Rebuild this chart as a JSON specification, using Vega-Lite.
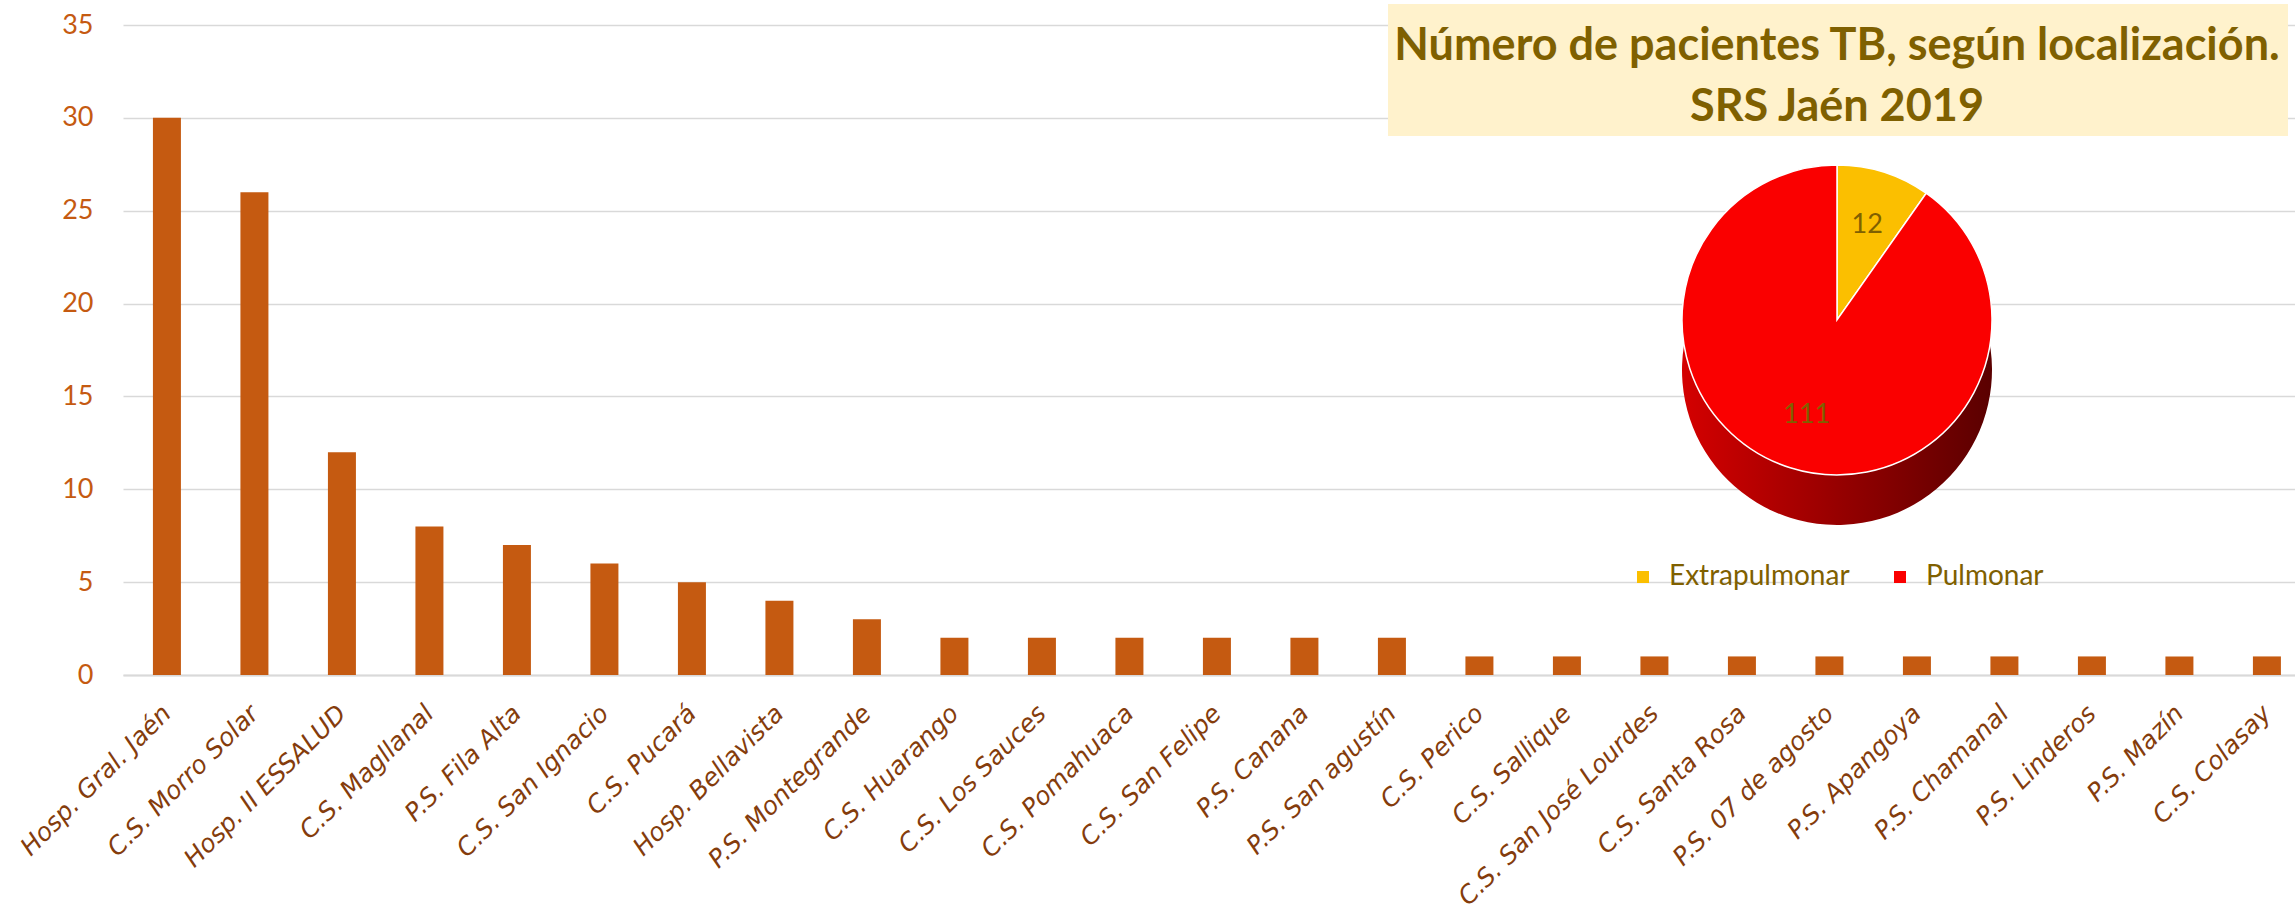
{
  "$schema": "https://vega.github.io/schema/vega-lite/v6.json",
  "width": 2172,
  "height": 650,
  "autosize": {"type": "none"},
  "padding": {"left": 123, "top": 25, "right": 0, "bottom": 235},
  "background": "white",
  "config": {"view": {"stroke": null}},
  "datasets": {
    "centros": [
      {"centro": "Hosp. Gral. Jaén", "pacientes": 30},
      {"centro": "C.S. Morro Solar", "pacientes": 26},
      {"centro": "Hosp. II ESSALUD", "pacientes": 12},
      {"centro": "C.S. Magllanal", "pacientes": 8},
      {"centro": "P.S. Fila Alta", "pacientes": 7},
      {"centro": "C.S. San Ignacio", "pacientes": 6},
      {"centro": "C.S. Pucará", "pacientes": 5},
      {"centro": "Hosp. Bellavista", "pacientes": 4},
      {"centro": "P.S. Montegrande", "pacientes": 3},
      {"centro": "C.S. Huarango", "pacientes": 2},
      {"centro": "C.S. Los Sauces", "pacientes": 2},
      {"centro": "C.S. Pomahuaca", "pacientes": 2},
      {"centro": "C.S. San Felipe", "pacientes": 2},
      {"centro": "P.S. Canana", "pacientes": 2},
      {"centro": "P.S. San agustín", "pacientes": 2},
      {"centro": "C.S. Perico", "pacientes": 1},
      {"centro": "C.S. Sallique", "pacientes": 1},
      {"centro": "C.S. San José Lourdes", "pacientes": 1},
      {"centro": "C.S. Santa Rosa", "pacientes": 1},
      {"centro": "P.S. 07 de agosto", "pacientes": 1},
      {"centro": "P.S. Apangoya", "pacientes": 1},
      {"centro": "P.S. Chamanal", "pacientes": 1},
      {"centro": "P.S. Linderos", "pacientes": 1},
      {"centro": "P.S. Mazín", "pacientes": 1},
      {"centro": "C.S. Colasay", "pacientes": 1}
    ],
    "pie": [
      {"localizacion": "Extrapulmonar", "pacientes": 12},
      {"localizacion": "Pulmonar", "pacientes": 111}
    ]
  },
  "layer": [
    {
      "data": {"name": "centros"},
      "mark": {"type": "bar", "color": "#C55A11"},
      "encoding": {
        "x": {
          "field": "centro", "type": "nominal", "sort": null,
          "scale": {"paddingInner": 0.68, "paddingOuter": 0.2515, "align": 0.68},
          "axis": {
            "title": null, "labelAngle": -45, "labelAlign": "right", "labelBaseline": "middle",
            "labelFont": "DejaVu Sans", "labelFontStyle": "italic", "labelFontSize": 25,
            "labelColor": "#843C0C", "labelPadding": 34, "ticks": false,
            "domainColor": "#D9D9D9", "domainWidth": 2, "labelLimit": 0, "labelOverlap": false
          }
        },
        "y": {
          "field": "pacientes", "type": "quantitative",
          "scale": {"domain": [0, 35]},
          "axis": {
            "title": null, "values": [0, 5, 10, 15, 20, 25, 30, 35],
            "grid": true, "gridColor": "#D9D9D9", "gridWidth": 1.5,
            "domain": false, "ticks": false,
            "labelFont": "Lato", "labelFontSize": 27, "labelColor": "#C55A11", "labelPadding": 30
          }
        }
      }
    },
    {
      "data": {"values": [{"caja": "título"}]},
      "mark": {"type": "rect", "x": 1265, "x2": 2165, "y": -21, "y2": 111, "fill": "#FFF2CC"},
      "encoding": {}
    },
    {
      "data": {"values": [{"caja": "título"}]},
      "mark": {
        "type": "text", "x": 1714, "y": 21,
        "text": ["Número de pacientes TB, según localización.", "SRS Jaén 2019"],
        "lineHeight": 61, "font": "Lato", "fontWeight": "bold", "fontSize": 45,
        "color": "#7F6000", "align": "center", "baseline": "middle"
      },
      "encoding": {}
    },
    {
      "data": {"name": "pie"},
      "mark": {
        "type": "arc", "x": 1714, "y": 345, "outerRadius": 155,
        "color": {"gradient": "linear", "x1": 0, "y1": 0, "x2": 1, "y2": 0,
          "stops": [{"offset": 0, "color": "#D40000"}, {"offset": 1, "color": "#5A0000"}]}
      },
      "encoding": {
        "theta": {"field": "pacientes", "type": "quantitative", "stack": true},
        "detail": {"field": "localizacion"}
      }
    },
    {
      "data": {"name": "pie"},
      "mark": {"type": "arc", "x": 1714, "y": 295, "outerRadius": 155, "stroke": "white", "strokeWidth": 1.5},
      "encoding": {
        "theta": {"field": "pacientes", "type": "quantitative", "stack": true},
        "color": {
          "field": "localizacion", "type": "nominal",
          "scale": {"domain": ["Extrapulmonar", "Pulmonar"], "range": ["#FBBF00", "#FA0000"]},
          "legend": {
            "title": null, "orient": "none", "legendX": 1506, "legendY": 538,
            "direction": "horizontal", "symbolType": "square", "symbolSize": 144,
            "symbolStrokeWidth": 0, "labelFont": "Lato", "labelFontSize": 28, "labelLimit": 0,
            "labelColor": "#7F6000", "labelOffset": 12, "columnPadding": 36, "padding": 0
          }
        }
      }
    },
    {
      "data": {"name": "pie"},
      "mark": {"type": "text", "x": 1714, "y": 295, "radius": 100, "font": "Lato", "fontSize": 27, "color": "#7F6000"},
      "encoding": {
        "theta": {"field": "pacientes", "type": "quantitative", "stack": true},
        "detail": {"field": "localizacion"},
        "text": {"field": "pacientes", "type": "quantitative"}
      }
    }
  ]
}
